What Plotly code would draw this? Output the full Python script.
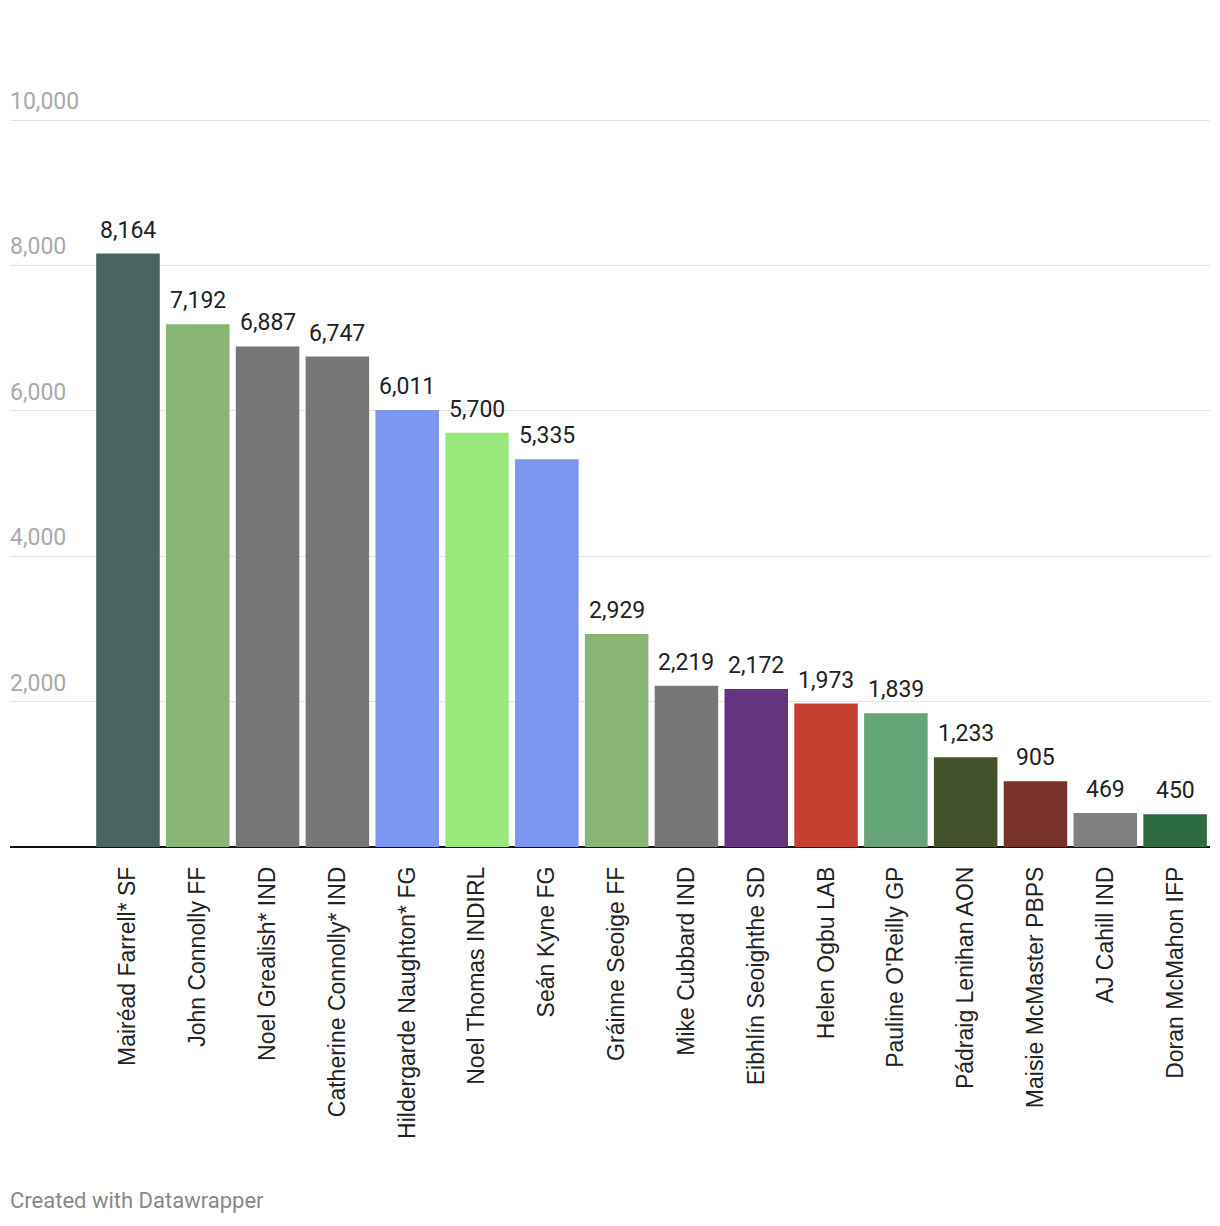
import plotly.graph_objects as go

candidates = ["Mairéad Farrell* SF", "John Connolly FF", "Noel Grealish* IND",
              "Catherine Connolly* IND", "Hildergarde Naughton* FG", "Noel Thomas INDIRL",
              "Seán Kyne FG", "Gráinne Seoige FF", "Mike Cubbard IND",
              "Eibhlín Seoighthe SD", "Helen Ogbu LAB", "Pauline O'Reilly GP",
              "Pádraig Lenihan AON", "Maisie McMaster PBPS", "AJ Cahill IND",
              "Doran McMahon IFP"]
votes = [8164, 7192, 6887, 6747, 6011, 5700, 5335, 2929, 2219, 2172, 1973, 1839,
         1233, 905, 469, 450]
colors = ["#48655f", "#89b677", "#777777", "#777777", "#7b97ef", "#98e87b",
          "#7b97ef", "#89b677", "#777777", "#663582", "#c63f2e", "#66a577",
          "#43522b", "#79332b", "#808080", "#2d6b40"]
ytick_vals = [2000, 4000, 6000, 8000, 10000]
ytick_text = ["2,000", "4,000", "6,000", "8,000", "10,000"]

idx = list(range(len(candidates)))

T, B = 111, 379
H = 1218
plot_h = H - T - B

fig = go.Figure(go.Bar(
    x=idx, y=votes, marker=dict(color=colors, line=dict(width=0)),
    width=0.91, hoverinfo="x+y",
))

annotations = [dict(
    text=t, xref="paper", yref="y", x=0, y=v, xanchor="left", yanchor="bottom",
    xshift=-2, yshift=3, showarrow=False,
    font=dict(family="Roboto", size=23, color="#aaaaaa"),
) for v, t in zip(ytick_vals, ytick_text)]

annotations += [dict(
    text=f"{v:,}", xref="x", yref="y", x=i, y=v, xanchor="center", yanchor="bottom",
    yshift=8, showarrow=False,
    font=dict(family="Roboto", size=23, color="#222222"),
) for i, v in zip(idx, votes)]

annotations.append(dict(
    text="Created with Datawrapper", xref="paper", yref="paper",
    x=0, xanchor="left", y=-(1200 - 847) / plot_h, yanchor="middle",
    xshift=-2, showarrow=False, font=dict(family="Roboto", size=22, color="#888888"),
))

fig.update_layout(
    width=1212, height=H,
    margin=dict(l=2, r=10, t=T, b=B),
    paper_bgcolor="white", plot_bgcolor="white",
    showlegend=False,
    font=dict(family="Roboto"),
    xaxis=dict(
        tickmode="array", tickvals=idx, ticktext=candidates,
        range=[-1.69, 15.5], tickangle=-90,
        tickfont=dict(family="Liberation Sans", size=23, color="#222222"),
        showgrid=False, zeroline=False, showline=False, ticks="",
        ticklabelstandoff=14,
    ),
    yaxis=dict(
        range=[0, 10015], tickmode="array", tickvals=[0] + ytick_vals,
        showgrid=True, gridcolor="#e3e3e3", gridwidth=1,
        zeroline=True, zerolinecolor="#111111", zerolinewidth=2,
        showticklabels=False, showline=False, ticks="",
    ),
    annotations=annotations,
)

fig.write_html("out.html")
